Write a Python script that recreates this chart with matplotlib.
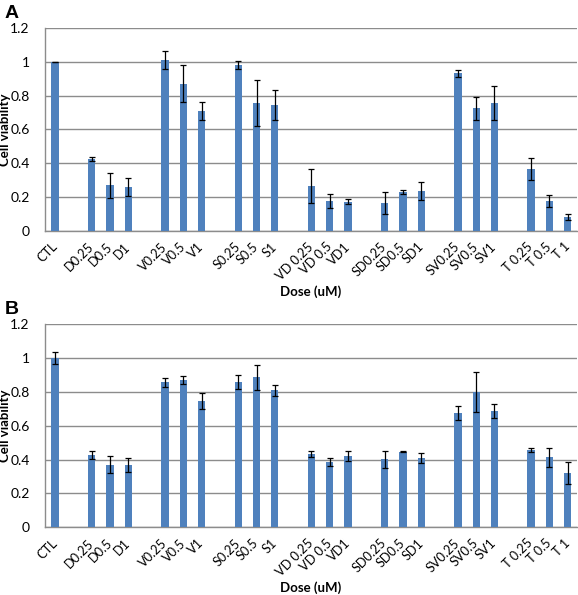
import matplotlib.pyplot as plt
import matplotlib.transforms as mtrans
import numpy as np

# categories ("" = empty slot between groups)
labels = ["CTL", "",
          "D0.25", "D0.5", "D1", "",
          "V0.25", "V0.5", "V1", "",
          "S0.25", "S0.5", "S1", "",
          "VD 0.25", "VD 0.5", "VD1", "",
          "SD0.25", "SD0.5", "SD1", "",
          "SV0.25", "SV0.5", "SV1", "",
          "T 0.25", "T 0.5", "T 1"]

# panel A
vals_a = [1.0, None,
          0.425, 0.27, 0.26, None,
          1.01, 0.87, 0.71, None,
          0.98, 0.755, 0.745, None,
          0.265, 0.177, 0.173, None,
          0.163, 0.23, 0.238, None,
          0.931, 0.724, 0.754, None,
          0.366, 0.175, 0.081]
err_a = [0.0, None,
         0.01, 0.075, 0.055, None,
         0.055, 0.11, 0.055, None,
         0.025, 0.135, 0.09, None,
         0.1, 0.04, 0.014, None,
         0.065, 0.012, 0.053, None,
         0.022, 0.07, 0.1, None,
         0.067, 0.035, 0.018]

# panel B
vals_b = [1.0, None,
          0.427, 0.368, 0.368, None,
          0.856, 0.871, 0.746, None,
          0.86, 0.886, 0.809, None,
          0.433, 0.385, 0.419, None,
          0.401, 0.446, 0.409, None,
          0.675, 0.799, 0.688, None,
          0.454, 0.413, 0.32]
err_b = [0.035, None,
         0.025, 0.05, 0.04, None,
         0.027, 0.024, 0.047, None,
         0.041, 0.072, 0.033, None,
         0.02, 0.022, 0.03, None,
         0.05, 0.004, 0.03, None,
         0.04, 0.12, 0.04, None,
         0.012, 0.055, 0.067]

plt.rcParams['font.family'] = ['Lato', 'DejaVu Sans']
blue = '#4F81BD'
grid = '#8C8C8C'

fig = plt.figure(figsize=(5.78, 5.95), dpi=100)
shift = mtrans.ScaledTranslation(3 / 100, 0, fig.dpi_scale_trans)


def panel(rect, vals, errs, letter):
    ax = fig.add_axes(rect)
    x = np.array([i for i, v in enumerate(vals) if v is not None])
    v = np.array([vals[i] for i in x])
    e = np.array([errs[i] for i in x])
    ax.bar(x, v, width=0.4, color=blue, zorder=3)
    ax.errorbar(x, v, yerr=e, fmt='none', ecolor='black', elinewidth=0.9,
                capsize=2.5, capthick=0.9, zorder=4)
    ax.set_xlim(-0.55, 28.5)
    ax.set_ylim(0, 1.2)
    ax.set_yticks(np.arange(0, 1.21, 0.2))
    ax.set_yticklabels(['0', '0.2', '0.4', '0.6', '0.8', '1', '1.2'], fontsize=10)
    ax.yaxis.grid(True, color=grid, linewidth=1, zorder=0)
    ax.set_xticks(x)
    ax.set_xticklabels([labels[i] for i in x], rotation=45, ha='right',
                       va='center', rotation_mode='anchor', fontsize=9.2)
    for t in ax.get_xticklabels():
        t.set_transform(t.get_transform() + shift)
    ax.tick_params(axis='y', length=0, pad=11)
    ax.tick_params(axis='x', length=0, pad=10)
    for s in ['top', 'right']:
        ax.spines[s].set_visible(False)
    for s in ['left', 'bottom']:
        ax.spines[s].set_color(grid)
        ax.spines[s].set_linewidth(1)
    ax.set_ylabel('Cell viability', fontweight='bold', fontsize=9.5, va='center')
    ax.yaxis.set_label_coords(-0.076, 0.5)
    ax.set_xlabel('Dose (uM)', fontweight='bold', fontsize=9.5, va='center')
    ax.xaxis.set_label_coords(0.5, -0.30)
    fig.text(0.008, rect[1] + rect[3] + 0.017, letter, fontsize=14,
             fontweight='bold', family='Liberation Sans')
    return ax


panel([0.078, 0.612, 0.92, 0.341], vals_a, err_a, 'A')
panel([0.078, 0.114, 0.92, 0.341], vals_b, err_b, 'B')

fig.savefig('out.png', dpi=100)
